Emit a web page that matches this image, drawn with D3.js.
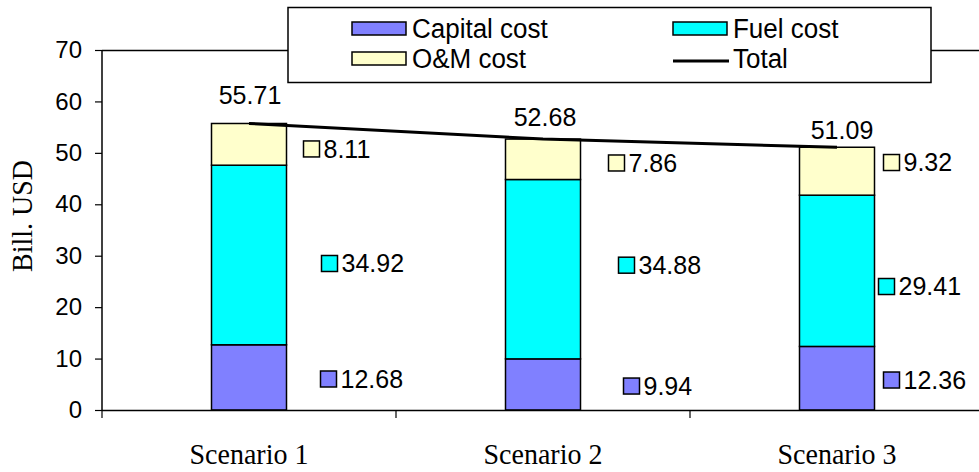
<!DOCTYPE html>
<html>
<head>
<meta charset="utf-8">
<script src="https://cdn.jsdelivr.net/npm/d3@7"></script>
<style>
  html, body { margin: 0; padding: 0; background: #fff; }
  svg { display: block; }
</style>
</head>
<body>
<svg id="chart" width="979" height="472"></svg>
<script>
// ---- data ----
const scenarios = ["Scenario 1", "Scenario 2", "Scenario 3"];
const capitalCost = [12.68, 9.94, 12.36];
const fuelCost = [34.92, 34.88, 29.41];
const omCost = [8.11, 7.86, 9.32];
const totalCost = [55.71, 52.68, 51.09];
const yTicks = [0, 10, 20, 30, 40, 50, 60, 70];

// ---- series styling ----
const seriesKeys = ["capital", "fuel", "om"];
const seriesNames = { capital: "Capital cost", fuel: "Fuel cost", om: "O&M cost" };
const seriesColors = { capital: "#8080FF", fuel: "#00FFFF", om: "#FFFFCC" };

// hand-placed value label offsets: [dx from bar edge, dy from segment middle]
const labelNudge = {
  capital: [[34, 1.6], [43, 1.6], [9, 1.8]],
  fuel:    [[35, 8.5], [38, -4], [4, 15.7]],
  om:      [[17, 4.6], [28, 3.7], [9, -8.7]]
};
const totalNudge = [[1, -28], [2, -22], [5, -17]];

const svg = d3.select("#chart");
const sans = "Arial, 'Liberation Sans', sans-serif";
const serif = "'Times New Roman', 'Liberation Serif', serif";

const plotLeft = 102, plotRight = 984, plotTop = 50, plotBottom = 410;

const x = d3.scaleBand().domain(scenarios).range([plotLeft, plotRight]).padding(0);
const y = d3.scaleLinear().domain([0, 70]).range([plotBottom, plotTop]);
const barW = 75;

const rows = scenarios.map((s, i) => ({
  scenario: s, capital: capitalCost[i], fuel: fuelCost[i], om: omCost[i], total: totalCost[i]
}));
const stacked = d3.stack().keys(seriesKeys)(rows);

// frame: top border line
svg.append("line")
  .attr("x1", plotLeft).attr("x2", plotRight)
  .attr("y1", y(70) + 0.5).attr("y2", y(70) + 0.5)
  .attr("stroke", "#000").attr("stroke-width", 1.5);

// stacked bars
stacked.forEach(layer => {
  svg.append("g").selectAll("rect")
    .data(layer)
    .join("rect")
    .attr("x", d => x(d.data.scenario) + x.bandwidth() / 2 - barW / 2)
    .attr("width", barW)
    .attr("y", d => y(d[1]))
    .attr("height", d => y(d[0]) - y(d[1]))
    .attr("fill", seriesColors[layer.key])
    .attr("stroke", "#000")
    .attr("stroke-width", 1.5);
});

// y axis
const yAxis = svg.append("g")
  .attr("transform", `translate(${plotLeft},0)`)
  .call(d3.axisLeft(y).tickValues(yTicks).tickSize(7).tickPadding(13).tickFormat(d3.format("d")));
yAxis.select(".domain").attr("stroke-width", 1.5).attr("d", `M0,${y(70)}V${y(0)}`);
yAxis.selectAll(".tick line").attr("stroke-width", 1.2);
yAxis.selectAll(".tick text").attr("font-family", sans).attr("font-size", 24).attr("fill", "#000");

// x axis with ticks at category boundaries
const xAxisG = svg.append("g").attr("transform", `translate(0,${plotBottom})`);
xAxisG.append("line")
  .attr("x1", plotLeft).attr("x2", plotRight)
  .attr("y1", 0.5).attr("y2", 0.5)
  .attr("stroke", "#000").attr("stroke-width", 1.5);
const bounds = scenarios.map(s => x(s));
xAxisG.selectAll("line.tk")
  .data(bounds)
  .join("line")
  .attr("class", "tk")
  .attr("x1", d => d).attr("x2", d => d)
  .attr("y1", 0).attr("y2", 8)
  .attr("stroke", "#000").attr("stroke-width", 1.2);
xAxisG.selectAll("text")
  .data(scenarios)
  .join("text")
  .attr("transform", d => `translate(${x(d) + x.bandwidth() / 2},54) scale(1,1.07)`)
  .attr("text-anchor", "middle")
  .attr("font-family", serif)
  .attr("font-size", 28)
  .text(d => d);

// y axis title
svg.append("text")
  .attr("transform", `translate(32,${(plotTop + plotBottom) / 2 - 14}) rotate(-90) scale(1,1.07)`)
  .attr("text-anchor", "middle")
  .attr("font-family", serif)
  .attr("font-size", 28)
  .text("Bill. USD");

// total line
const line = d3.line()
  .x(d => x(d.scenario) + x.bandwidth() / 2)
  .y(d => y(d.total));
svg.append("path")
  .datum(rows)
  .attr("d", line)
  .attr("fill", "none")
  .attr("stroke", "#000")
  .attr("stroke-width", 3);

// total labels
svg.append("g").selectAll("text")
  .data(rows)
  .join("text")
  .attr("x", (d, i) => x(d.scenario) + x.bandwidth() / 2 + totalNudge[i][0])
  .attr("y", (d, i) => y(d.total) + totalNudge[i][1])
  .attr("dy", "0.35em")
  .attr("text-anchor", "middle")
  .attr("font-family", sans)
  .attr("font-size", 25)
  .text(d => d3.format(".2f")(d.total));

// segment value labels with legend keys
const sw = 16;
stacked.forEach(layer => {
  const g = svg.append("g");
  layer.forEach((d, i) => {
    const [dx, dy] = labelNudge[layer.key][i];
    const bx = x(d.data.scenario) + x.bandwidth() / 2 + barW / 2 + dx;
    const cy = y((d[0] + d[1]) / 2) + dy;
    g.append("rect")
      .attr("x", bx).attr("y", cy - sw / 2)
      .attr("width", sw).attr("height", sw)
      .attr("fill", seriesColors[layer.key])
      .attr("stroke", "#000").attr("stroke-width", 1.5);
    g.append("text")
      .attr("x", bx + sw + 4).attr("y", cy)
      .attr("dy", "0.35em")
      .attr("font-family", sans)
      .attr("font-size", 25)
      .text(d3.format(".2f")(d.data[layer.key]));
  });
});

// legend
const legend = svg.append("g");
legend.append("rect")
  .attr("x", 288).attr("y", 7.5)
  .attr("width", 643).attr("height", 75)
  .attr("fill", "#fff").attr("stroke", "#000").attr("stroke-width", 1.5);
const legendItems = [
  { key: "capital", col: 0, row: 0 },
  { key: "fuel", col: 1, row: 0 },
  { key: "om", col: 0, row: 1 },
  { key: "total", col: 1, row: 1 }
];
const colX = [352, 673], rowY = [28, 58];
legendItems.forEach(it => {
  const lx = colX[it.col], ly = rowY[it.row];
  if (it.key === "total") {
    legend.append("line")
      .attr("x1", lx).attr("x2", lx + 56)
      .attr("y1", ly + 3).attr("y2", ly + 3)
      .attr("stroke", "#000").attr("stroke-width", 3);
  } else {
    legend.append("rect")
      .attr("x", lx).attr("y", ly - 6)
      .attr("width", 54).attr("height", 13)
      .attr("fill", seriesColors[it.key])
      .attr("stroke", "#000").attr("stroke-width", 1.5);
  }
  legend.append("text")
    .attr("transform", `translate(${lx + 60},${ly}) scale(1,1.07)`)
    .attr("dy", "0.35em")
    .attr("font-family", sans)
    .attr("font-size", 26)
    .text(it.key === "total" ? "Total" : seriesNames[it.key]);
});
</script>
</body>
</html>
